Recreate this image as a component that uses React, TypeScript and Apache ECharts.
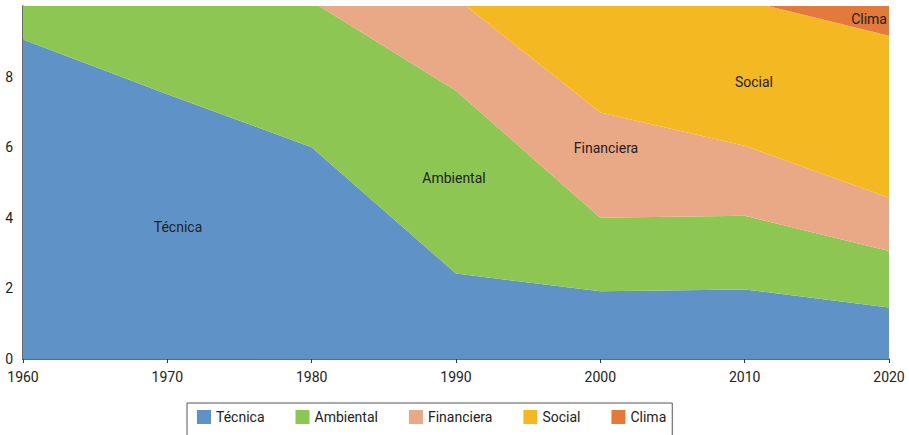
import React, { useEffect, useRef } from "react";
import * as echarts from "echarts";

const years = ["1960", "1970", "1980", "1990", "2000", "2010", "2020"];
const seriesNames = ["Técnica", "Ambiental", "Financiera", "Social", "Clima"];
const tecnica = [9.05, 7.5, 6.0, 2.42, 1.92, 1.97, 1.46];
const ambiental = [0.95, 2.5, 4.13, 5.18, 2.08, 2.09, 1.6];
const financiera = [0, 0, 0, 2.63, 2.98, 1.98, 1.51];
const social = [0, 0, 0, 0, 3.1, 4.12, 4.59];
const clima = [0, 0, 0, 0, 0, 0, 0.9];
const colors = ["#5f93c8", "#8dc653", "#eaa986", "#f4b922", "#e3793a"];

const FONT = "Roboto, 'DejaVu Sans', sans-serif";

export default function App() {
  const ref = useRef<HTMLDivElement>(null);
  useEffect(() => {
    if (!ref.current) return;
    const chart = echarts.init(ref.current, null, { renderer: "svg" });
    const values = [tecnica, ambiental, financiera, social, clima];
    const series = values.map((arr, i) => ({
      name: seriesNames[i],
      type: "line",
      stack: "total",
      clip: true,
      showSymbol: false,
      symbol: "none",
      lineStyle: { width: 0 },
      areaStyle: { color: colors[i], opacity: 1 },
      itemStyle: { color: colors[i] },
      data: arr,
    }));
    const label = (text: string, x: number, y: number, align: string) => ({
      type: "text",
      x,
      y,
      z: 100,
      style: { text, fill: "#222", fontSize: 14, fontFamily: FONT, align, verticalAlign: "middle" },
    });
    chart.setOption({
      animation: false,
      textStyle: { fontFamily: FONT },
      grid: { left: 23, right: 20, top: 6, bottom: 76, containLabel: false },
      xAxis: {
        type: "category",
        data: years,
        boundaryGap: false,
        splitLine: { show: false },
        axisLine: { show: true, lineStyle: { color: "#3a3a3a", width: 1.5 } },
        axisTick: { show: true, length: 4, lineStyle: { color: "#3a3a3a" } },
        axisLabel: { color: "#222", fontSize: 14, fontFamily: FONT, margin: 11 },
      },
      yAxis: {
        type: "value",
        min: 0,
        max: 10,
        interval: 2,
        splitLine: { show: false },
        axisLine: { show: true, lineStyle: { color: "#3a3a3a", width: 1.5 } },
        axisTick: { show: false },
        axisLabel: {
          color: "#222",
          fontSize: 14,
          fontFamily: FONT,
          margin: 10,
          formatter: (v: number) => (v === 10 ? "" : String(v)),
        },
      },
      legend: {
        data: seriesNames,
        left: 187,
        top: 403,
        icon: "rect",
        itemWidth: 14,
        itemHeight: 14,
        itemGap: 31,
        borderColor: "#555",
        borderWidth: 1,
        padding: [7, 6, 14, 10],
        textStyle: { color: "#222", fontSize: 14, fontFamily: FONT },
      },
      graphic: [
        label("Técnica", 178, 227, "center"),
        label("Ambiental", 454, 178, "center"),
        label("Financiera", 606, 148, "center"),
        label("Social", 754, 82, "center"),
        label("Clima", 887, 19, "right"),
      ],
      series,
    });
    return () => chart.dispose();
  }, []);
  return (
    <div
      ref={ref}
      style={{ position: "fixed", left: 0, top: 0, width: 909, height: 435, background: "#fff" }}
    />
  );
}
